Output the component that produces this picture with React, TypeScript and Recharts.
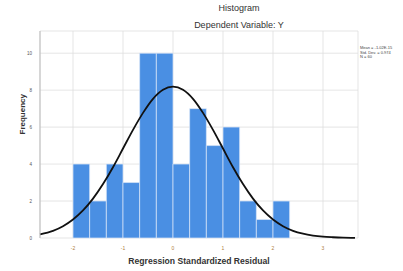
import {
  CartesianGrid,
  ComposedChart,
  Line,
  ReferenceArea,
  XAxis,
  YAxis,
} from "recharts";

// histogram bins (lower/upper edges) and counts
const BIN_EDGES = [
  -2, -1.667, -1.333, -1, -0.667, -0.333, 0, 0.333, 0.667, 1, 1.333, 1.667, 2,
  2.333,
];
const COUNTS = [4, 2, 4, 3, 10, 10, 4, 7, 5, 6, 2, 1, 2];

// normal curve
const CURVE_X = [
  -2.66, -2.4, -2.2, -2.0, -1.8, -1.6, -1.4, -1.2, -1.0, -0.8, -0.6, -0.4, -0.2,
  0, 0.2, 0.4, 0.6, 0.8, 1.0, 1.2, 1.4, 1.6, 1.8, 2.0, 2.2, 2.4, 2.6, 2.8, 3.0,
  3.2, 3.4, 3.64,
];
const CURVE_Y = [
  0.2, 0.39, 0.64, 1.0, 1.49, 2.13, 2.92, 3.83, 4.84, 5.85, 6.77, 7.53, 8.02,
  8.19, 8.02, 7.53, 6.77, 5.85, 4.84, 3.83, 2.92, 2.13, 1.49, 1.0, 0.64, 0.39,
  0.23, 0.13, 0.07, 0.04, 0.02, 0.01,
];

const X_TICKS = [-2, -1, 0, 1, 2, 3];
const Y_TICKS = [0, 2, 4, 6, 8, 10];
const LEGEND_LINES = ["Mean = -1.02E-15", "Std. Dev. = 0.974", "N = 60"];

const BAR = "#4a8fe3";
const FONT = "'Liberation Sans', Arial, sans-serif";

const curve = CURVE_X.map((x, i) => ({ x, y: CURVE_Y[i] }));

export default function App() {
  return (
    <div
      style={{
        position: "absolute",
        left: 0,
        top: 0,
        width: 403,
        height: 271,
        background: "#fff",
        fontFamily: FONT,
      }}
    >
      <div
        style={{
          position: "absolute",
          left: 0,
          width: 478,
          top: 3,
          textAlign: "center",
          fontSize: 9,
          color: "#333",
        }}
      >
        Histogram
      </div>
      <div
        style={{
          position: "absolute",
          left: 0,
          width: 478,
          top: 20,
          textAlign: "center",
          fontSize: 9,
          color: "#333",
        }}
      >
        Dependent Variable: Y
      </div>
      <div
        style={{
          position: "absolute",
          left: 360,
          top: 46,
          fontSize: 4,
          lineHeight: "4.6px",
          color: "#444",
          whiteSpace: "nowrap",
        }}
      >
        {LEGEND_LINES.map((t) => (
          <div key={t}>{t}</div>
        ))}
      </div>
      <ComposedChart
        width={403}
        height={271}
        data={curve}
        margin={{ top: 31, right: 45, bottom: 0, left: 28 }}
      >
        <CartesianGrid stroke="#dedede" strokeWidth={0.8} />
        <XAxis
          dataKey="x"
          type="number"
          domain={[-2.66, 3.7]}
          ticks={X_TICKS}
          height={33}
          axisLine={false}
          tickLine={false}
          tick={{ fontSize: 5, fill: "#b08040", fontFamily: FONT }}
          tickMargin={2}
          label={{
            value: "Regression Standardized Residual",
            position: "insideBottom",
            offset: 7,
            fontSize: 8.6,
            fontWeight: "bold",
            fill: "#333",
            fontFamily: FONT,
          }}
        />
        <YAxis
          type="number"
          domain={[0, 11.2]}
          ticks={Y_TICKS}
          width={12}
          axisLine={{ stroke: "#bbb" }}
          tickLine={false}
          tick={{ fontSize: 4.5, fill: "#555", fontFamily: FONT }}
          label={{
            value: "Frequency",
            angle: -90,
            position: "insideLeft",
            offset: -6,
            fontSize: 8,
            fontWeight: "bold",
            fill: "#333",
            fontFamily: FONT,
          }}
        />
        {COUNTS.map((c, i) => (
          <ReferenceArea
            key={i}
            x1={BIN_EDGES[i]}
            x2={BIN_EDGES[i + 1]}
            y1={0}
            y2={c}
            fill={BAR}
            fillOpacity={1}
            stroke="#dbe7f8"
            strokeWidth={0.7}
            ifOverflow="visible"
          />
        ))}
        <Line
          dataKey="y"
          type="monotone"
          stroke="#111"
          strokeWidth={1.8}
          dot={false}
          isAnimationActive={false}
        />
      </ComposedChart>
    </div>
  );
}
